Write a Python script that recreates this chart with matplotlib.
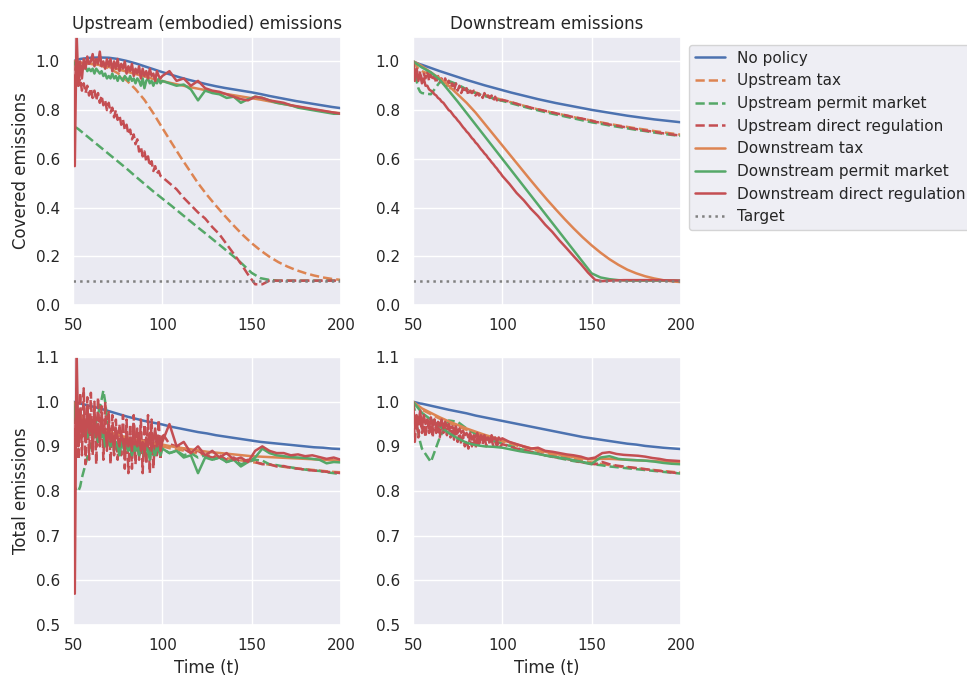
import matplotlib
matplotlib.use("Agg")
import matplotlib.pyplot as plt
import seaborn as sns

sns.set_theme()

# time grids: smooth series use t_s, noisy series use t_n
t_s = [50, 51, 52, 53, 54] + list(range(55, 201, 5))
t_n = list(range(50, 100)) + list(range(100, 201, 4))

labels = ["No policy", "Upstream tax", "Upstream permit market",
          "Upstream direct regulation", "Downstream tax",
          "Downstream permit market", "Downstream direct regulation"]
target = 0.1

# ---- Covered emissions, upstream (embodied) ----
cu_none = [1.000, 1.003, 1.006, 1.008, 1.010, 1.011, 1.015, 1.016, 1.015, 1.010,
           1.002, 0.992, 0.980, 0.968, 0.956, 0.945, 0.934, 0.924, 0.915, 0.906,
           0.898, 0.891, 0.885, 0.879, 0.873, 0.866, 0.858, 0.851, 0.844, 0.837,
           0.831, 0.825, 0.819, 0.813, 0.808]
cu_up_tax = [1.0, 0.998, 0.997, 0.996, 0.995, 0.994, 0.99, 0.984, 0.972, 0.952,
             0.922, 0.886, 0.842, 0.787, 0.727, 0.668, 0.61, 0.555, 0.50, 0.452,
             0.408, 0.366, 0.326, 0.288, 0.254, 0.224, 0.198, 0.176, 0.158, 0.143,
             0.131, 0.121, 0.113, 0.107, 0.103]
cu_up_permit = [1.0, 0.73, 0.727, 0.722, 0.716, 0.71, 0.68, 0.65, 0.62, 0.59,
                0.56, 0.528, 0.497, 0.466, 0.437, 0.408, 0.378, 0.348, 0.318, 0.289,
                0.259, 0.229, 0.199, 0.167, 0.132, 0.110, 0.103, 0.10, 0.10, 0.10,
                0.10, 0.10, 0.10, 0.10, 0.10]
cu_up_reg = [1.00, 0.88, 0.97, 0.90, 0.93, 0.88, 0.91, 0.87, 0.90, 0.86,
             0.89, 0.85, 0.88, 0.84, 0.87, 0.83, 0.86, 0.82, 0.84, 0.80,
             0.83, 0.79, 0.81, 0.77, 0.80, 0.76, 0.78, 0.74, 0.76, 0.72,
             0.74, 0.70, 0.72, 0.68, 0.70, 0.66, 0.68, 0.63, 0.65, 0.61,
             0.63, 0.59, 0.61, 0.57, 0.59, 0.55, 0.57, 0.54, 0.55, 0.53,
             0.525, 0.50, 0.475, 0.44, 0.41, 0.38, 0.355, 0.32, 0.29, 0.25,
             0.21, 0.17, 0.125, 0.085, 0.085, 0.10, 0.10, 0.10, 0.10, 0.10,
             0.10, 0.10, 0.10, 0.10, 0.10, 0.10]
cu_down_tax = [1.0, 0.998, 0.996, 0.995, 0.994, 0.993, 0.99, 0.985, 0.977, 0.968,
               0.958, 0.948, 0.938, 0.928, 0.919, 0.911, 0.903, 0.895, 0.888, 0.881,
               0.874, 0.867, 0.861, 0.855, 0.849, 0.843, 0.836, 0.829, 0.822, 0.815,
               0.808, 0.802, 0.796, 0.791, 0.787]
cu_down_permit = [1.00, 0.99, 0.98, 0.99, 0.97, 0.98, 0.97, 0.98, 0.96, 0.97,
                  0.96, 0.97, 0.95, 0.97, 0.96, 0.95, 0.96, 0.94, 0.95, 0.93,
                  0.94, 0.93, 0.95, 0.93, 0.94, 0.92, 0.94, 0.93, 0.92, 0.94,
                  0.93, 0.92, 0.94, 0.92, 0.93, 0.91, 0.93, 0.92, 0.90, 0.93,
                  0.89, 0.92, 0.93, 0.91, 0.92, 0.90, 0.92, 0.91, 0.93, 0.91,
                  0.92, 0.91, 0.90, 0.905, 0.885, 0.84, 0.88, 0.87, 0.865, 0.85,
                  0.855, 0.83, 0.845, 0.855, 0.85, 0.84, 0.83, 0.825, 0.82, 0.81,
                  0.805, 0.80, 0.795, 0.79, 0.785, 0.785]
cu_down_reg = [1.00, 0.57, 1.12, 0.90, 1.00, 0.93, 1.01, 0.97, 1.02, 0.99,
               1.00, 1.03, 0.98, 1.01, 0.99, 1.04, 0.98, 1.00, 0.97, 1.01,
               0.98, 1.01, 0.96, 1.00, 0.97, 1.01, 0.96, 0.99, 0.97, 1.00,
               0.95, 0.98, 0.96, 0.99, 0.94, 0.97, 0.95, 0.98, 0.93, 0.97,
               0.94, 0.96, 0.93, 0.97, 0.94, 0.95, 0.92, 0.96, 0.94, 0.93,
               0.94, 0.96, 0.92, 0.93, 0.90, 0.92, 0.89, 0.88, 0.875, 0.865,
               0.855, 0.845, 0.84, 0.855, 0.85, 0.84, 0.835, 0.83, 0.82, 0.815,
               0.81, 0.805, 0.80, 0.795, 0.79, 0.785]

# ---- Covered emissions, downstream ----
cd_none = [1.0, 0.997, 0.994, 0.991, 0.988, 0.986, 0.973, 0.96, 0.948, 0.936,
           0.924, 0.913, 0.902, 0.892, 0.882, 0.872, 0.863, 0.854, 0.845, 0.837,
           0.829, 0.822, 0.815, 0.808, 0.801, 0.795, 0.789, 0.783, 0.777, 0.772,
           0.767, 0.762, 0.758, 0.754, 0.750]
cd_up_tax = [1.0, 0.99, 0.98, 0.97, 0.965, 0.96, 0.945, 0.93, 0.915, 0.90,
             0.885, 0.872, 0.862, 0.852, 0.842, 0.832, 0.822, 0.812, 0.803, 0.795,
             0.787, 0.779, 0.771, 0.764, 0.757, 0.75, 0.743, 0.737, 0.731, 0.725,
             0.72, 0.714, 0.709, 0.704, 0.699]
cd_up_permit = [1.0, 0.96, 0.92, 0.89, 0.875, 0.87, 0.865, 0.915, 0.92, 0.905,
                0.885, 0.87, 0.858, 0.848, 0.838, 0.828, 0.818, 0.808, 0.799, 0.79,
                0.782, 0.774, 0.766, 0.758, 0.75, 0.744, 0.737, 0.731, 0.725, 0.719,
                0.714, 0.708, 0.703, 0.698, 0.694]
cd_up_reg = [1.00, 0.92, 0.97, 0.93, 0.96, 0.92, 0.95, 0.93, 0.96, 0.92,
             0.95, 0.92, 0.94, 0.91, 0.94, 0.91, 0.93, 0.90, 0.93, 0.90,
             0.92, 0.89, 0.91, 0.88, 0.91, 0.88, 0.90, 0.87, 0.89, 0.87,
             0.89, 0.86, 0.88, 0.87, 0.88, 0.86, 0.87, 0.86, 0.87, 0.85,
             0.87, 0.85, 0.86, 0.85, 0.86, 0.84, 0.855, 0.84, 0.85, 0.84,
             0.842, 0.835, 0.826, 0.818, 0.81, 0.803, 0.797, 0.79, 0.784, 0.778,
             0.771, 0.766, 0.76, 0.752, 0.747, 0.741, 0.736, 0.731, 0.726, 0.721,
             0.716, 0.712, 0.707, 0.703, 0.699, 0.695]
cd_down_tax = [1.0, 0.997, 0.993, 0.989, 0.985, 0.98, 0.955, 0.93, 0.90, 0.865,
               0.83, 0.79, 0.745, 0.70, 0.655, 0.61, 0.565, 0.52, 0.476, 0.433,
               0.392, 0.352, 0.314, 0.278, 0.245, 0.215, 0.188, 0.165, 0.145, 0.13,
               0.118, 0.109, 0.102, 0.097, 0.094]
cd_down_permit = [1.0, 0.995, 0.99, 0.985, 0.98, 0.975, 0.955, 0.925, 0.88, 0.835,
                  0.788, 0.741, 0.694, 0.647, 0.60, 0.553, 0.506, 0.459, 0.412, 0.365,
                  0.318, 0.271, 0.224, 0.177, 0.13, 0.113, 0.106, 0.102, 0.10, 0.10,
                  0.10, 0.10, 0.10, 0.10, 0.10]
cd_down_reg = [1.00, 0.93, 0.96, 0.92, 0.95, 0.91, 0.93, 0.90, 0.90, 0.885,
               0.88, 0.875, 0.865, 0.86, 0.85, 0.845, 0.835, 0.83, 0.82, 0.81,
               0.80, 0.795, 0.785, 0.775, 0.768, 0.758, 0.75, 0.74, 0.73, 0.722,
               0.712, 0.705, 0.695, 0.685, 0.678, 0.667, 0.66, 0.65, 0.64, 0.632,
               0.622, 0.615, 0.604, 0.596, 0.586, 0.578, 0.568, 0.56, 0.549, 0.541,
               0.53, 0.497, 0.46, 0.43, 0.395, 0.365, 0.33, 0.30, 0.265, 0.233,
               0.20, 0.168, 0.133, 0.103, 0.098, 0.10, 0.101, 0.102, 0.102, 0.102,
               0.102, 0.102, 0.102, 0.101, 0.101, 0.10]

# ---- Total emissions, upstream (embodied) ----
tu_none = [1.0, 0.999, 0.998, 0.997, 0.996, 0.995, 0.99, 0.985, 0.979, 0.973,
           0.967, 0.962, 0.957, 0.953, 0.949, 0.944, 0.94, 0.936, 0.932, 0.929,
           0.925, 0.922, 0.919, 0.916, 0.913, 0.91, 0.908, 0.906, 0.904, 0.902,
           0.90, 0.898, 0.897, 0.895, 0.894]
tu_up_tax = [1.0, 0.99, 0.98, 0.97, 0.96, 0.955, 0.945, 0.935, 0.93, 0.925,
             0.92, 0.915, 0.91, 0.905, 0.90, 0.895, 0.892, 0.888, 0.884, 0.88,
             0.877, 0.874, 0.871, 0.868, 0.865, 0.862, 0.859, 0.856, 0.853, 0.851,
             0.849, 0.847, 0.845, 0.843, 0.842]
tu_up_permit = [1.00, 0.81, 0.80, 0.80, 0.81, 0.83, 0.845, 0.86, 0.875, 0.89,
                0.91, 0.925, 0.94, 0.955, 0.97, 0.99, 1.005, 1.025, 1.00, 0.965,
                0.94, 0.92, 0.905, 0.91, 0.895, 0.90, 0.91, 0.895, 0.90, 0.89,
                0.91, 0.895, 0.90, 0.885, 0.905, 0.89, 0.90, 0.88, 0.895, 0.885,
                0.90, 0.88, 0.895, 0.875, 0.89, 0.88, 0.895, 0.885, 0.90, 0.89,
                0.895, 0.885, 0.89, 0.88, 0.885, 0.875, 0.88, 0.87, 0.875, 0.865,
                0.87, 0.86, 0.865, 0.87, 0.868, 0.86, 0.858, 0.855, 0.853, 0.85,
                0.848, 0.846, 0.845, 0.842, 0.84, 0.838]
tu_up_reg = [1.00, 0.86, 1.03, 0.87, 1.02, 0.88, 1.03, 0.86, 1.01, 0.87,
             1.02, 0.88, 1.00, 0.86, 1.01, 0.90, 0.99, 0.87, 1.00, 0.89,
             0.98, 0.86, 0.97, 0.88, 0.96, 0.87, 0.95, 0.88, 0.97, 0.85,
             0.96, 0.84, 0.95, 0.85, 0.97, 0.86, 0.94, 0.87, 0.96, 0.84,
             0.95, 0.86, 0.97, 0.84, 0.96, 0.85, 0.93, 0.88, 0.96, 0.87,
             0.93, 0.905, 0.90, 0.895, 0.885, 0.89, 0.88, 0.875, 0.88, 0.87,
             0.875, 0.865, 0.87, 0.865, 0.86, 0.86, 0.855, 0.856, 0.852, 0.85,
             0.848, 0.846, 0.845, 0.843, 0.842, 0.84]
tu_down_tax = [1.0, 0.99, 0.98, 0.975, 0.97, 0.965, 0.95, 0.94, 0.932, 0.926,
               0.92, 0.915, 0.911, 0.907, 0.904, 0.90, 0.897, 0.894, 0.891, 0.888,
               0.886, 0.884, 0.882, 0.88, 0.878, 0.877, 0.876, 0.875, 0.874, 0.873,
               0.872, 0.871, 0.87, 0.869, 0.868]
tu_down_permit = [1.00, 0.97, 0.95, 0.96, 0.94, 0.95, 0.93, 0.95, 0.92, 0.94,
                  0.93, 0.94, 0.92, 0.93, 0.91, 0.94, 0.92, 0.93, 0.90, 0.92,
                  0.91, 0.90, 0.92, 0.89, 0.91, 0.90, 0.88, 0.91, 0.90, 0.89,
                  0.91, 0.89, 0.90, 0.88, 0.90, 0.89, 0.91, 0.88, 0.90, 0.89,
                  0.88, 0.90, 0.89, 0.87, 0.90, 0.89, 0.88, 0.90, 0.89, 0.88,
                  0.895, 0.885, 0.89, 0.875, 0.88, 0.84, 0.875, 0.87, 0.875, 0.865,
                  0.87, 0.855, 0.865, 0.875, 0.895, 0.885, 0.88, 0.878, 0.876, 0.875,
                  0.874, 0.872, 0.87, 0.862, 0.865, 0.864]
tu_down_reg = [1.00, 0.57, 1.12, 0.90, 0.98, 0.92, 0.97, 0.91, 0.99, 0.93,
               0.96, 0.90, 0.98, 0.92, 0.95, 0.91, 0.97, 0.93, 0.94, 0.90,
               0.95, 0.91, 0.93, 0.89, 0.94, 0.92, 0.90, 0.93, 0.91, 0.89,
               0.93, 0.90, 0.92, 0.89, 0.95, 0.91, 0.90, 0.93, 0.89, 0.91,
               0.88, 0.92, 0.90, 0.93, 0.89, 0.91, 0.94, 0.90, 0.92, 0.89,
               0.91, 0.95, 0.90, 0.91, 0.885, 0.90, 0.88, 0.89, 0.875, 0.885,
               0.87, 0.875, 0.865, 0.89, 0.90, 0.89, 0.885, 0.885, 0.88, 0.882,
               0.878, 0.88, 0.876, 0.872, 0.875, 0.87]

# ---- Total emissions, downstream ----
td_none = [1.0, 0.999, 0.998, 0.997, 0.996, 0.9955, 0.991, 0.9865, 0.982, 0.978,
           0.974, 0.969, 0.965, 0.961, 0.957, 0.953, 0.949, 0.945, 0.941, 0.937,
           0.933, 0.929, 0.925, 0.921, 0.918, 0.915, 0.912, 0.909, 0.906, 0.904,
           0.901, 0.899, 0.897, 0.8955, 0.894]
td_up_tax = [1.0, 0.996, 0.992, 0.988, 0.985, 0.982, 0.972, 0.962, 0.953, 0.945,
             0.937, 0.93, 0.923, 0.917, 0.911, 0.905, 0.90, 0.895, 0.89, 0.885,
             0.88, 0.876, 0.872, 0.868, 0.864, 0.861, 0.858, 0.855, 0.853, 0.851,
             0.849, 0.847, 0.845, 0.843, 0.841]
td_up_permit = [1.0, 0.98, 0.95, 0.93, 0.91, 0.895, 0.865, 0.92, 0.958, 0.955,
                0.94, 0.928, 0.918, 0.912, 0.906, 0.90, 0.894, 0.889, 0.884, 0.879,
                0.875, 0.871, 0.867, 0.864, 0.86, 0.858, 0.855, 0.853, 0.851, 0.849,
                0.847, 0.845, 0.843, 0.841, 0.839]
td_up_reg = [1.00, 0.91, 0.96, 0.92, 0.97, 0.93, 0.95, 0.92, 0.96, 0.93,
             0.95, 0.92, 0.96, 0.93, 0.95, 0.92, 0.955, 0.93, 0.95, 0.925,
             0.945, 0.92, 0.94, 0.915, 0.935, 0.91, 0.93, 0.905, 0.925, 0.90,
             0.915, 0.895, 0.925, 0.90, 0.92, 0.895, 0.925, 0.90, 0.92, 0.905,
             0.925, 0.90, 0.92, 0.905, 0.915, 0.90, 0.91, 0.90, 0.91, 0.90,
             0.905, 0.90, 0.895, 0.892, 0.888, 0.884, 0.88, 0.877, 0.874, 0.872,
             0.868, 0.865, 0.862, 0.86, 0.865, 0.86, 0.857, 0.855, 0.853, 0.851,
             0.849, 0.847, 0.845, 0.843, 0.841, 0.84]
td_down_tax = [1.0, 0.997, 0.994, 0.991, 0.988, 0.985, 0.975, 0.965, 0.956, 0.948,
               0.94, 0.933, 0.926, 0.92, 0.914, 0.908, 0.902, 0.897, 0.892, 0.887,
               0.883, 0.879, 0.876, 0.873, 0.871, 0.872, 0.872, 0.871, 0.87, 0.869,
               0.868, 0.867, 0.866, 0.865, 0.864]
td_down_permit = [1.0, 0.995, 0.99, 0.985, 0.98, 0.975, 0.96, 0.945, 0.93, 0.918,
                  0.908, 0.903, 0.90, 0.899, 0.897, 0.893, 0.889, 0.886, 0.883, 0.879,
                  0.876, 0.873, 0.869, 0.865, 0.861, 0.875, 0.878, 0.872, 0.87, 0.869,
                  0.868, 0.866, 0.863, 0.861, 0.86]
td_down_reg = [1.00, 0.94, 0.97, 0.95, 0.98, 0.94, 0.97, 0.95, 0.96, 0.94,
               0.965, 0.945, 0.96, 0.94, 0.955, 0.945, 0.96, 0.94, 0.955, 0.945,
               0.95, 0.94, 0.945, 0.935, 0.945, 0.93, 0.94, 0.93, 0.935, 0.925,
               0.93, 0.92, 0.93, 0.915, 0.925, 0.92, 0.93, 0.915, 0.925, 0.92,
               0.925, 0.915, 0.92, 0.91, 0.925, 0.915, 0.92, 0.91, 0.92, 0.915,
               0.918, 0.91, 0.905, 0.90, 0.895, 0.897, 0.89, 0.888, 0.885, 0.882,
               0.88, 0.877, 0.872, 0.875, 0.885, 0.887, 0.883, 0.881, 0.88, 0.879,
               0.877, 0.874, 0.872, 0.869, 0.868, 0.867]

colors = ["#4C72B0", "#DD8452", "#55A868", "#C44E52", "#DD8452", "#55A868", "#C44E52"]
styles = ["-", "--", "--", "--", "-", "-", "-"]

panels = [
    [(t_s, cu_none), (t_s, cu_up_tax), (t_s, cu_up_permit), (t_n, cu_up_reg),
     (t_s, cu_down_tax), (t_n, cu_down_permit), (t_n, cu_down_reg)],
    [(t_s, cd_none), (t_s, cd_up_tax), (t_s, cd_up_permit), (t_n, cd_up_reg),
     (t_s, cd_down_tax), (t_s, cd_down_permit), (t_n, cd_down_reg)],
    [(t_s, tu_none), (t_s, tu_up_tax), (t_n, tu_up_permit), (t_n, tu_up_reg),
     (t_s, tu_down_tax), (t_n, tu_down_permit), (t_n, tu_down_reg)],
    [(t_s, td_none), (t_s, td_up_tax), (t_s, td_up_permit), (t_n, td_up_reg),
     (t_s, td_down_tax), (t_s, td_down_permit), (t_n, td_down_reg)],
]

fig = plt.figure(figsize=(9.67, 6.77), dpi=100)
ax_pos = [[0.0755, 0.5495, 0.2770, 0.3958],
          [0.4271, 0.5495, 0.2770, 0.3958],
          [0.0755, 0.0768, 0.2770, 0.3958],
          [0.4271, 0.0768, 0.2770, 0.3958]]
axes = [fig.add_axes(p) for p in ax_pos]

for i, (ax, series) in enumerate(zip(axes, panels)):
    for (t, y), c, ls, lab in zip(series, colors, styles, labels):
        ax.plot(t, y, color=c, linestyle=ls, linewidth=1.8, label=lab)
    ax.set_xlim(50, 200)
    ax.set_xticks([50, 100, 150, 200])
    if i < 2:
        ax.axhline(target, color="gray", linestyle=":", linewidth=1.8, label="Target")
        ax.set_ylim(0, 1.1)
        ax.set_yticks([0.0, 0.2, 0.4, 0.6, 0.8, 1.0])
    else:
        ax.set_ylim(0.5, 1.1)
        ax.set_yticks([0.5, 0.6, 0.7, 0.8, 0.9, 1.0, 1.1])
        ax.set_xlabel("Time (t)")

axes[0].set_title("Upstream (embodied) emissions")
axes[1].set_title("Downstream emissions")
axes[0].set_ylabel("Covered emissions")
axes[2].set_ylabel("Total emissions")
axes[1].legend(loc="upper left", bbox_to_anchor=(1.0, 1.0))

fig.savefig("out.png", dpi=100)
